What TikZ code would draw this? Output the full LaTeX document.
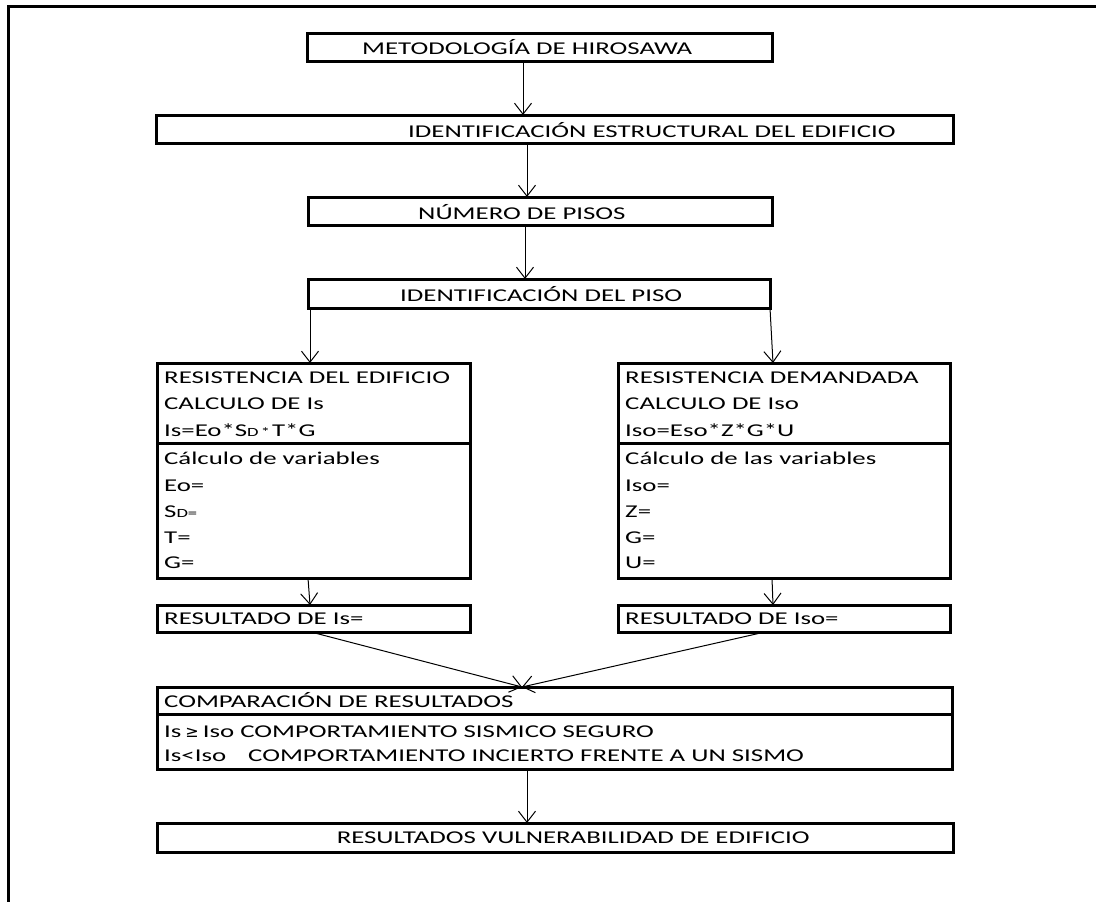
\documentclass[tikz,border=0pt]{standalone}
\usepackage{fontspec}
\setmainfont{Carlito}[FakeStretch=1.49]
\newfontfamily\symf{DejaVu Sans}
\usetikzlibrary{arrows.meta,calc}
\newcommand\smtxt[1]{{\fontsize{12.5}{12.5}\selectfont #1}}
\begin{document}
\begin{tikzpicture}[x=1pt,y=-1pt,
  box/.style={draw, line width=3pt, inner sep=0pt, outer sep=0pt},
  txt/.style={anchor=west, inner sep=0pt, font=\fontsize{18}{21}\selectfont},
  arr/.style={-{Straight Barb[length=11pt,width=17pt]}, line width=1pt}]
\useasboundingbox (0,0) rectangle (1096,902);
% frame
\draw[line width=3pt] (8,902) -- (8,6) -- (1096,6);
% boxes
\node[box, minimum width=465pt, minimum height=28pt] (b1) at (539.5,47) {};
\node[box, minimum width=797pt, minimum height=28pt] (b2) at (554.5,129) {};
\node[box, minimum width=464pt, minimum height=28pt] (b3) at (540,211) {};
\node[box, minimum width=462pt, minimum height=29pt] (b4) at (539,293.5) {};
\node[box, minimum width=313pt, minimum height=215pt] (L) at (313.5,470.5) {};
\node[box, minimum width=332pt, minimum height=215pt] (R) at (784,470.5) {};
\node[box, minimum width=313pt, minimum height=27pt] (rL) at (313.5,618.5) {};
\node[box, minimum width=332pt, minimum height=27pt] (rR) at (784,618.5) {};
\node[box, minimum width=795pt, minimum height=82pt] (cmp) at (554.5,728) {};
\node[box, minimum width=796pt, minimum height=29pt] (fin) at (555,837.5) {};
% dividers
\coordinate (dL) at (157,443);
\coordinate (dR) at (618,443);
\coordinate (dC) at (157,714);
\draw[line width=3pt] (dL) -- (dL -| L.east);
\draw[line width=3pt] (dR) -- (dR -| R.east);
\draw[line width=3pt] (dC) -- (dC -| cmp.east);
% texts
\node[txt] (t1) at (362,47) {METODOLOGÍA DE HIROSAWA};
\node[txt] (t2) at (408,130) {IDENTIFICACIÓN ESTRUCTURAL DEL EDIFICIO};
\node[txt] (t3) at (418,212) {NÚMERO DE PISOS};
\node[txt] (t4) at (400,294) {IDENTIFICACIÓN DEL PISO};
\node[txt] (l1) at (164,378) {RESISTENCIA DEL EDIFICIO};
\node[txt] (l2) at (164,404) {CALCULO DE Is};
\node[txt] (l3) at (164,430) {Is=Eo*S\smtxt{D\,*\,}T*G};
\node[txt] (l4) at (164,458) {Cálculo de variables};
\node[txt] (l5) at (164,486) {Eo=};
\node[txt] (l6) at (164,512) {S\smtxt{D=}};
\node[txt] (l7) at (164,538) {T=};
\node[txt] (l8) at (164,563) {G=};
\node[txt] (r1) at (625,378) {RESISTENCIA DEMANDADA};
\node[txt] (r2) at (625,404) {CALCULO DE Iso};
\node[txt] (r3) at (625,430) {Iso=Eso*Z*G*U};
\node[txt] (r4) at (625,458) {Cálculo de las variables};
\node[txt] (r5) at (625,486) {Iso=};
\node[txt] (r6) at (625,512) {Z=};
\node[txt] (r7) at (625,538) {G=};
\node[txt] (r8) at (625,563) {U=};
\node[txt] (rl) at (164,619) {RESULTADO DE Is=};
\node[txt] (rr) at (625,619) {RESULTADO DE Iso=};
\node[txt] (c1) at (164,700) {COMPARACIÓN DE RESULTADOS};
\node[txt] (c2) at (164,732) {Is\hspace{4pt}{\symf\fontsize{16}{16}\selectfont ≥}\hspace{4pt}Iso COMPORTAMIENTO SISMICO SEGURO};
\node[txt] (c3) at (164,756) {Is<Iso\hspace*{22pt}COMPORTAMIENTO INCIERTO FRENTE A UN SISMO};
\node[txt, anchor=east] (tf) at (810,838) {RESULTADOS VULNERABILIDAD DE EDIFICIO};
% arrows
\draw[arr] (b1.south -| 523,0) -- (b2.north -| 523,0);
\draw[arr] (b2.south -| 527,0) -- (b3.north -| 527,0);
\draw[arr] (b3.south -| 525,0) -- (b4.north -| 525,0);
\draw[arr] ($(b4.south west)+(2,0)$) coordinate (s4) -- (s4 |- L.north);
\draw[arr] (b4.south east) -- ($(b4.east |- R.north)+(3,0)$);
\draw[arr] (L.south -| 308,0) -- (rL.north -| 310,0);
\draw[arr] (R.south -| 772,0) -- (rR.north -| 773,0);
\draw[arr] (rL.south -| 311,0) -- (cmp.north -| 522,0);
\draw[arr] (rR.south -| 765,0) -- (cmp.north -| 522,0);
\draw[arr] (cmp.south -| 527,0) -- (fin.north -| 527,0);
\end{tikzpicture}
\end{document}
